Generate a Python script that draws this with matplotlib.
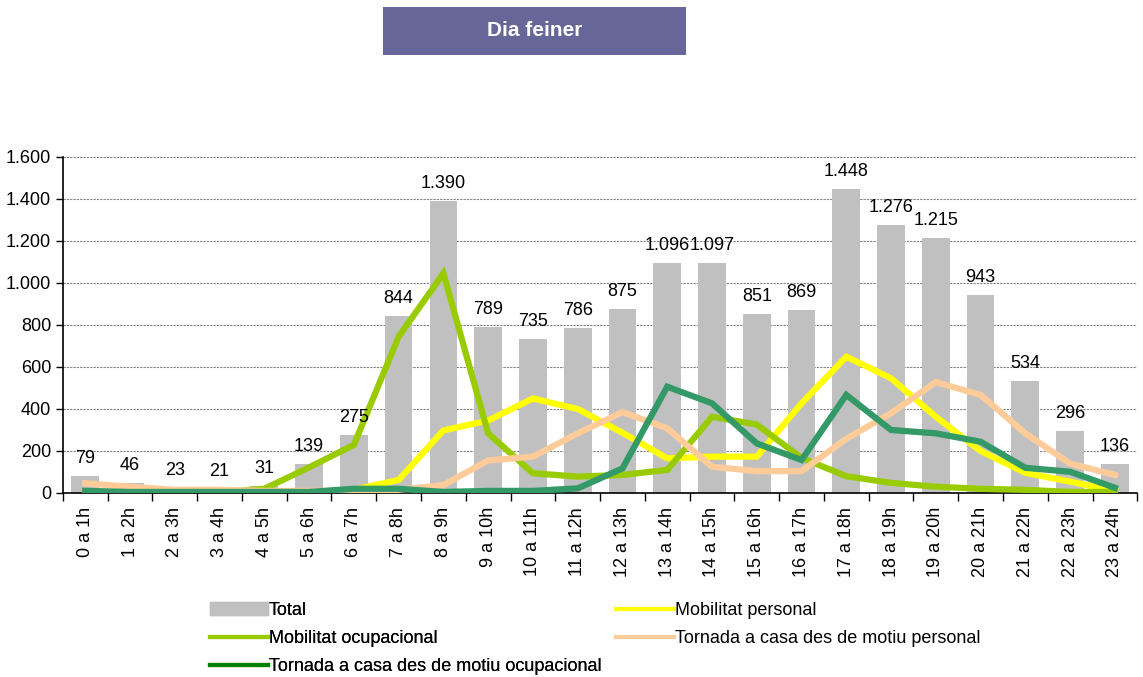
import matplotlib.pyplot as plt
from matplotlib.lines import Line2D
from matplotlib.patches import Patch

plt.rcParams['font.family'] = ['Liberation Sans', 'DejaVu Sans']

HOURS = ['0 a 1h', '1 a 2h', '2 a 3h', '3 a 4h', '4 a 5h', '5 a 6h', '6 a 7h', '7 a 8h',
         '8 a 9h', '9 a 10h', '10 a 11h', '11 a 12h', '12 a 13h', '13 a 14h', '14 a 15h',
         '15 a 16h', '16 a 17h', '17 a 18h', '18 a 19h', '19 a 20h', '20 a 21h',
         '21 a 22h', '22 a 23h', '23 a 24h']
TOTAL = [79, 46, 23, 21, 31, 139, 275, 844, 1390, 789, 735, 786, 875, 1096, 1097,
         851, 869, 1448, 1276, 1215, 943, 534, 296, 136]
MOB_PERSONAL = [5, 5, 5, 5, 5, 5, 15, 62, 298, 345, 450, 400, 287, 165, 173,
                173, 427, 649, 546, 363, 200, 96, 54, 10]
MOB_OCUPACIONAL = [5, 5, 5, 5, 20, 122, 229, 744, 1046, 284, 94, 78, 86, 110, 363,
                   326, 167, 80, 48, 30, 20, 15, 5, 5]
TORNADA_PERSONAL = [46, 30, 15, 15, 10, 10, 10, 15, 38, 155, 173, 284, 385, 308, 125,
                    104, 104, 258, 380, 528, 467, 284, 140, 86]
TORNADA_OCUPACIONAL = [10, 5, 5, 5, 5, 5, 20, 20, 5, 10, 10, 22, 117, 506, 427,
                       236, 157, 467, 300, 284, 244, 120, 101, 25]

BAR_COLOR = '#C0C0C0'
# (label, values, line colour, legend colour)
SERIES = [
    ('Mobilitat personal', MOB_PERSONAL, '#FFFF00', '#FFFF00'),
    ('Mobilitat ocupacional', MOB_OCUPACIONAL, '#99CC00', '#99CC00'),
    ('Tornada a casa des de motiu personal', TORNADA_PERSONAL, '#FFCC99', '#FFCC99'),
    ('Tornada a casa des de motiu ocupacional', TORNADA_OCUPACIONAL, '#339966', '#008000'),
]
FS = 13


def thousands(v):
    return f'{v:,}'.replace(',', '.')


fig = plt.figure(figsize=(11.43, 6.77), dpi=100)
ax = fig.add_axes([0.055, 0.2718, 0.94, 0.4964])

x = list(range(len(HOURS)))
ax.bar(x, TOTAL, width=0.62, color=BAR_COLOR, zorder=2)
for xi, v in zip(x, TOTAL):
    ax.annotate(thousands(v), (xi, v), xytext=(0, 6.5), textcoords='offset points',
                ha='center', va='bottom', fontsize=FS, zorder=5)

for name, values, color, _ in SERIES:
    ax.plot(x, values, color=color, lw=4.5, solid_joinstyle='miter', zorder=3)

ax.set_xlim(-0.5, len(HOURS) - 0.5)
ax.set_ylim(0, 1600)
ax.set_yticks(range(0, 1601, 200))
ax.set_yticklabels([thousands(v) for v in range(0, 1601, 200)], fontsize=FS)
ax.set_xticks(x)
ax.set_xticklabels(HOURS, rotation=90, fontsize=FS)
ax.tick_params(axis='x', length=0, pad=10)
ax.set_xticks([i - 0.5 for i in range(len(HOURS) + 1)], minor=True)
ax.tick_params(axis='x', which='minor', length=6, width=1, direction='out')
ax.tick_params(axis='y', length=5, width=1, direction='out')
ax.yaxis.grid(True, linestyle=(0, (2, 1)), color='#808080', lw=0.8, zorder=0)
ax.set_axisbelow(True)
for side in ['top', 'right']:
    ax.spines[side].set_visible(False)
for side in ['left', 'bottom']:
    ax.spines[side].set_linewidth(1.2)


def line_handle(s):
    return Line2D([], [], color=s[3], lw=3)


legend_kw = dict(loc='upper left', frameon=False, fontsize=13, handlelength=3.2,
                 handletextpad=0.05, labelspacing=0.62, borderaxespad=0, borderpad=0)
left_handles = [Patch(color=BAR_COLOR), line_handle(SERIES[1]), line_handle(SERIES[3])]
left_labels = ['Total', SERIES[1][0], SERIES[3][0]]
leg1 = fig.legend(left_handles, left_labels, bbox_to_anchor=(210 / 1143, 1 - 602 / 677),
                  **legend_kw)
fig.add_artist(leg1)
fig.legend([line_handle(SERIES[0]), line_handle(SERIES[2])], [SERIES[0][0], SERIES[2][0]],
           bbox_to_anchor=(616 / 1143, 1 - 602 / 677), **legend_kw)

# title box
fig.patches.append(plt.Rectangle((383 / 1143, 1 - 55 / 677), 303 / 1143, 48 / 677,
                                 transform=fig.transFigure, facecolor='#666699',
                                 edgecolor='none', zorder=0))
fig.text(534.5 / 1143, 1 - 31 / 677, 'Dia feiner', ha='center', va='center', fontsize=15,
         fontweight='bold', color='white', zorder=2)

fig.savefig('out.png', dpi=100)
